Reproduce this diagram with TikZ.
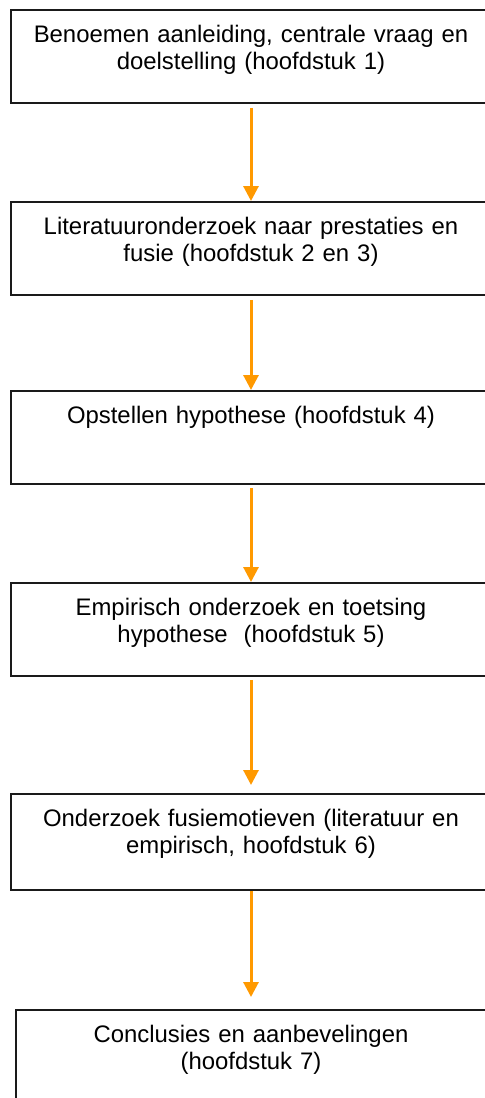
\documentclass[tikz,border=0pt]{standalone}
\usepackage{xcolor}
\usepackage{tikz}
\usepackage{fontspec}
\setmainfont{Liberation Sans}
\usetikzlibrary{arrows.meta, positioning}
\definecolor{fcorange}{HTML}{FF9900}
\definecolor{fcborder}{HTML}{1A1A1A}

\begin{document}
\begin{tikzpicture}[
  stage/.style={
    rectangle,
    draw=fcborder,
    line width=1.1pt,
    fill=white,
    anchor=north,
    text width=11.6cm,
    inner xsep=0.2cm,
    inner ysep=0pt,
    align=center,
    text height=0.83cm,
    text depth=#1,
    font=\fontsize{17}{19.2}\selectfont
  },
  stage/.default=1.5cm,
  flow/.style={
    draw=fcorange,
    line width=0.075cm,
    -{Triangle[width=0.375cm,length=0.375cm]}
  }
]
  \useasboundingbox (0,0) rectangle (12.125,-27.45);
  \clip (0,0) rectangle (12.125,-27.45);

  \node[stage] (intro) at (6.275,-0.225) {Benoemen aanleiding, centrale vraag en\\doelstelling (hoofdstuk 1)};
  \node[stage] (lit) at (6.275,-5.025) {Literatuuronderzoek naar prestaties en\\fusie (hoofdstuk 2 en 3)};
  \node[stage] (hyp) at (6.275,-9.75) {Opstellen hypothese (hoofdstuk 4)};
  \node[stage] (emp) at (6.275,-14.55) {Empirisch onderzoek en toetsing\\hypothese\ \ (hoofdstuk 5)};
  \node[stage=1.575cm] (motief) at (6.275,-19.825) {Onderzoek fusiemotieven (literatuur en\\empirisch, hoofdstuk 6)};
  \node[stage, text width=11.35cm] (concl) at (6.275,-25.225) {Conclusies en aanbevelingen\\(hoofdstuk 7)};

  % pijlen tussen de stappen
  \draw[flow, shorten <=0.1cm] (intro.south) -- (lit.north);
  \draw[flow, shorten <=0.1cm] (lit.south) -- (hyp.north);
  \draw[flow, shorten <=0.08cm] (hyp.south) -- (emp.north);
  \draw[flow, shorten <=0.08cm, shorten >=0.2cm] (emp.south) -- (motief.north);
  \draw[flow, shorten >=0.3cm] (motief.south) -- (concl.north);
\end{tikzpicture}
\end{document}
